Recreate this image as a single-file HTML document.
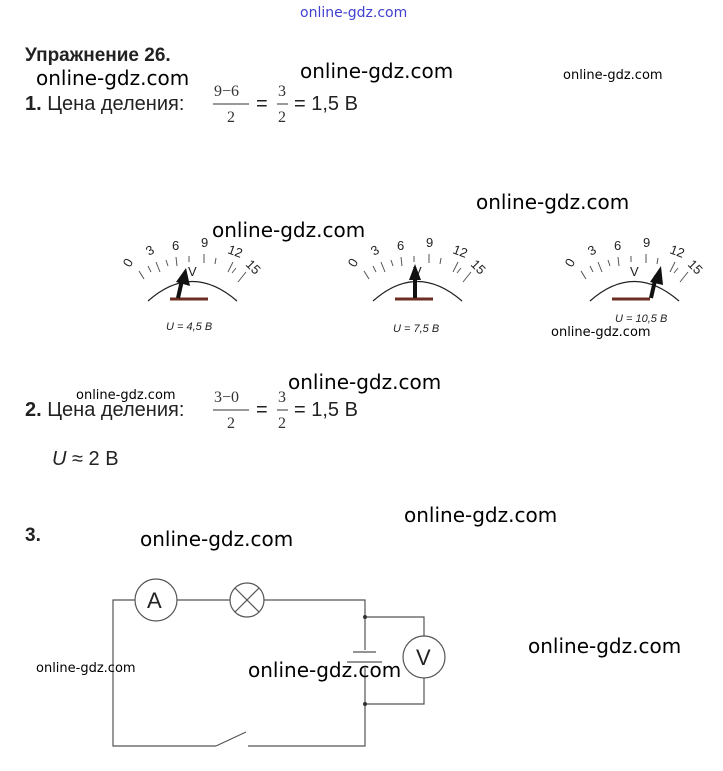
<!DOCTYPE html>
<html><head><meta charset="utf-8"><style>
body{margin:0;background:#fff}
svg{display:block}
.t{font-family:"Liberation Sans",sans-serif;fill:#222}
.w{font-family:"DejaVu Sans","Liberation Sans",sans-serif;fill:#000}
.f{font-family:"Liberation Serif",serif;fill:#333;font-size:16px}
</style></head><body>
<svg width="723" height="771" viewBox="0 0 723 771" xmlns="http://www.w3.org/2000/svg">
<defs>
<g id="scale">
<g class="t" font-size="13" fill="#222">
<text x="0" y="0" transform="translate(130,268) rotate(-60)">0</text>
<text x="0" y="0" transform="translate(149,256) rotate(-30)">3</text>
<text x="172" y="250">6</text>
<text x="201" y="247">9</text>
<text x="0" y="0" transform="translate(227,253) rotate(20)">12</text>
<text x="0" y="0" transform="translate(245,265) rotate(45)">15</text>
</g>
<g stroke="#555" stroke-width="1">
<line x1="139" y1="271" x2="144" y2="279"/><line x1="148" y1="266" x2="151" y2="272"/>
<line x1="156" y1="262" x2="160" y2="272"/><line x1="166" y1="260" x2="168" y2="266"/>
<line x1="176" y1="257" x2="177" y2="266"/><line x1="189" y1="256" x2="189" y2="262"/>
<line x1="204" y1="254" x2="204" y2="263"/><line x1="216" y1="258" x2="215" y2="264"/>
<line x1="233" y1="262" x2="228" y2="272"/><line x1="236" y1="268" x2="232" y2="273"/>
<line x1="246" y1="272" x2="238" y2="282"/>
</g>
<text class="t" x="188" y="276" font-size="13">V</text>
<path d="M148,301 Q192,262 237,301" fill="none" stroke="#222" stroke-width="1.2"/>
<line x1="170" y1="299" x2="208" y2="299" stroke="#6b2e20" stroke-width="3"/>
</g>
</defs>
<text class="w" x="300" y="17" font-size="14" style="fill:#4040d0">online-gdz.com</text>

<text class="t" x="25" y="61" font-size="19" font-weight="bold" style="fill:#222">Упражнение 26.</text>
<text class="w" x="36" y="85" font-size="20">online-gdz.com</text>
<text class="w" x="300" y="78" font-size="20">online-gdz.com</text>
<text class="w" x="563" y="79" font-size="13">online-gdz.com</text>
<text class="t" x="25" y="110" font-size="20"><tspan font-weight="bold">1.</tspan> Цена деления:</text>
<text class="f" x="214" y="96">9−6</text>
<line x1="213" y1="104" x2="249" y2="104" stroke="#333" stroke-width="1"/>
<text class="f" x="227" y="122">2</text>
<text class="t" x="256" y="110" font-size="20">=</text>
<text class="f" x="278" y="96">3</text>
<line x1="277" y1="104" x2="288" y2="104" stroke="#333"/>
<text class="f" x="278" y="122">2</text>
<text class="t" x="294" y="110" font-size="20">= 1,5 В</text>

<text class="w" x="476" y="209" font-size="20">online-gdz.com</text>
<text class="w" x="212" y="237" font-size="20">online-gdz.com</text>

<use href="#scale"/>
<line x1="178" y1="298" x2="183" y2="276" stroke="#111" stroke-width="4"/>
<polygon points="176,282 186,268 190,286" fill="#111"/>
<text class="t" x="166" y="330" font-size="11" font-style="italic">U = 4,5 В</text>

<g transform="translate(225,0)"><use href="#scale"/></g>
<line x1="415" y1="298" x2="415" y2="276" stroke="#111" stroke-width="4"/>
<polygon points="409,280 415,264 421,280" fill="#111"/>
<text class="t" x="393" y="332" font-size="11" font-style="italic">U = 7,5 В</text>

<g transform="translate(442,0)"><use href="#scale"/></g>
<line x1="651" y1="298" x2="656" y2="276" stroke="#111" stroke-width="4"/>
<polygon points="650,282 661,266 663,285" fill="#111"/>
<text class="t" x="615" y="322" font-size="11" font-style="italic">U = 10,5 В</text>
<text class="w" x="551" y="336" font-size="13">online-gdz.com</text>

<text class="w" x="288" y="389" font-size="20">online-gdz.com</text>
<text class="w" x="76" y="399" font-size="13">online-gdz.com</text>
<text class="t" x="25" y="416" font-size="20"><tspan font-weight="bold">2.</tspan> Цена деления:</text>
<text class="f" x="214" y="402">3−0</text>
<line x1="213" y1="410" x2="249" y2="410" stroke="#333"/>
<text class="f" x="227" y="428">2</text>
<text class="t" x="256" y="416" font-size="20">=</text>
<text class="f" x="278" y="402">3</text>
<line x1="277" y1="410" x2="288" y2="410" stroke="#333"/>
<text class="f" x="278" y="428">2</text>
<text class="t" x="294" y="416" font-size="20">= 1,5 В</text>
<text class="t" x="52" y="465" font-size="20"><tspan font-style="italic">U</tspan> ≈ 2 В</text>

<text class="w" x="404" y="522" font-size="20">online-gdz.com</text>
<text class="t" x="25" y="541" font-size="19" font-weight="bold">3.</text>
<text class="w" x="140" y="546" font-size="20">online-gdz.com</text>

<g fill="none" stroke="#555" stroke-width="1.2">
<polyline points="135,600 113,600 113,746 216,746"/>
<line x1="216" y1="746" x2="246" y2="732"/>
<polyline points="248,746 365,746 365,668"/>
<polyline points="365,650 365,600 264,600"/>
<line x1="177" y1="600" x2="230" y2="600"/>
<circle cx="156" cy="600" r="21"/>
<circle cx="247" cy="600" r="17"/>
<line x1="235" y1="588" x2="259" y2="612"/><line x1="259" y1="588" x2="235" y2="612"/>
<line x1="353" y1="652" x2="376" y2="652"/>
<line x1="347" y1="662" x2="382" y2="662"/>
<polyline points="365,617 424,617 424,636"/>
<polyline points="365,704 424,704 424,678"/>
<circle cx="424" cy="657" r="21"/>
</g>
<circle cx="365" cy="617" r="2" fill="#333"/><circle cx="365" cy="704" r="2" fill="#333"/>
<text class="t" x="147" y="608" font-size="22">A</text>
<text class="t" x="416" y="665" font-size="22">V</text>
<text class="w" x="528" y="653" font-size="20">online-gdz.com</text>
<text class="w" x="36" y="672" font-size="13">online-gdz.com</text>
<text class="w" x="248" y="677" font-size="20">online-gdz.com</text>
</svg>
</body></html>
